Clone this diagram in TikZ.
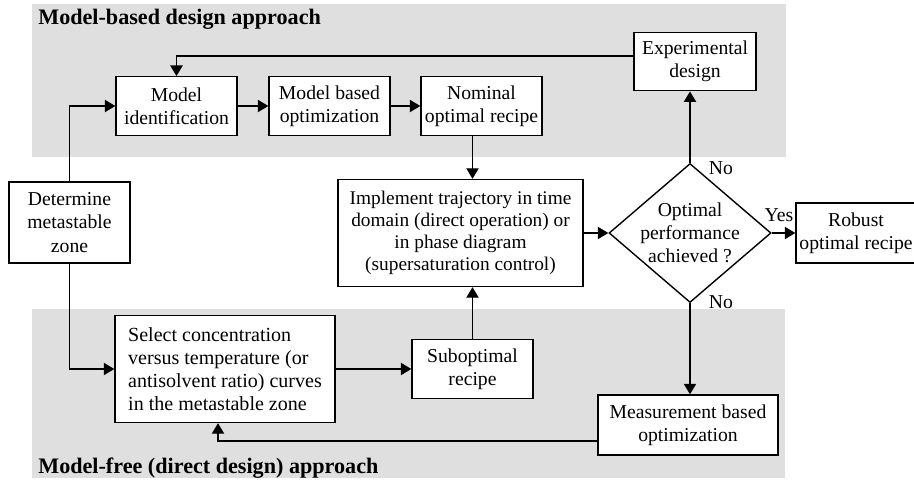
\documentclass[tikz,border=0pt]{standalone}
\usepackage{fontspec}
\setmainfont{Liberation Serif}
\usetikzlibrary{shapes.geometric,arrows.meta}

\begin{document}
\begin{tikzpicture}
\tikzstyle{lien}=[-{Triangle[length=6pt,width=7pt]},thick]
\tikzset{bloc/.style={draw,thick,fill=white,align=center,inner sep=1pt,
font=\fontsize{11.2}{13.2}\selectfont,minimum width=#1,minimum height=1.17cm},
bloc/.default={2.42cm},
zone/.style={fill=gray!25},
titre/.style={font=\fontsize{12.6}{15}\selectfont\bfseries,anchor=base west,inner sep=0pt},
rep/.style={font=\fontsize{11.2}{13.2}\selectfont,inner sep=1pt}}
\useasboundingbox (0,0) rectangle (18.28,-9.62);
\fill[zone] (0.64,-0.08) rectangle (15.72,-3.14);
\fill[zone] (0.64,-6.18) rectangle (15.70,-9.56);
\node[titre] (T1) at (0.76,-0.50) {Model-based design approach};
\node[titre] (T2) at (0.76,-9.46) {Model-free (direct design) approach};

\node[bloc] (MB1) at (3.53,-2.12) {Model\\identification};
\node[bloc] (MB2) at (6.59,-2.12) {Model based\\optimization};
\node[bloc] (MB3) at (9.63,-2.12) {Nominal\\optimal recipe};
\node[bloc=2.44cm] (MB4) at (13.90,-1.23) {Experimental\\design};
\node[bloc,minimum height=1.62cm] (D) at (1.39,-4.45) {Determine\\metastable\\zone};
\node[bloc=4.9cm,minimum height=2.14cm,font=\fontsize{11}{12.6}\selectfont] (I) at (9.21,-4.66) {Implement trajectory in time\\domain (direct operation) or\\in phase diagram\\(supersaturation control)};
\node[draw,thick,shape=diamond,aspect=1.17,inner sep=-2pt,minimum width=3.24cm,minimum height=2.78cm,
align=center,font=\fontsize{11.2}{13.2}\selectfont] (O) at (13.80,-4.66) {Optimal\\performance\\achieved ?};
\node[bloc=2.4cm,minimum height=1.2cm] (R) at (17.12,-4.66) {Robust\\optimal recipe};
\node[bloc=4.4cm,minimum height=2.14cm,align=left,font=\fontsize{11.4}{13}\selectfont] (MF1) at (4.50,-7.38) {Select concentration\\versus temperature (or\\antisolvent ratio) curves\\in the metastable zone};
\node[bloc] (MF2) at (9.45,-7.38) {Suboptimal\\recipe};
\node[bloc=3.6cm,minimum height=1.2cm] (MF3) at (13.76,-8.50) {Measurement based\\optimization};

\node[rep] (N1) at (14.42,-3.36) {No};
\node[rep] (N2) at (14.42,-6.04) {No};
\node[rep] (Y) at (15.58,-4.30) {Yes};

\draw[lien] (D.north) |- (MB1.west);
\draw[lien] (MB1) -- (MB2);
\draw[lien] (MB2) -- (MB3);
\draw[lien] (MB3.south -| MF2.north) -- (MF2.north |- I.north);
\draw[lien] (MF2.north) -- (MF2.north |- I.south);
\draw[lien] (I) -- (O);
\draw[lien] (O) -- (R);
\draw[lien] (O.north) -- (O.north |- MB4.south);
\draw[lien] ([yshift=0.11cm]MB4.west) -| (MB1.north);
\draw[lien] (O.south) -- (O.south |- MF3.north);
\draw[lien] ([yshift=-0.32cm]MF3.west) -| ([xshift=-0.14cm]MF1.south);
\draw[lien] (D.south) |- (MF1.west);
\draw[lien] (MF1) -- (MF2);

\end{tikzpicture}
\end{document}
